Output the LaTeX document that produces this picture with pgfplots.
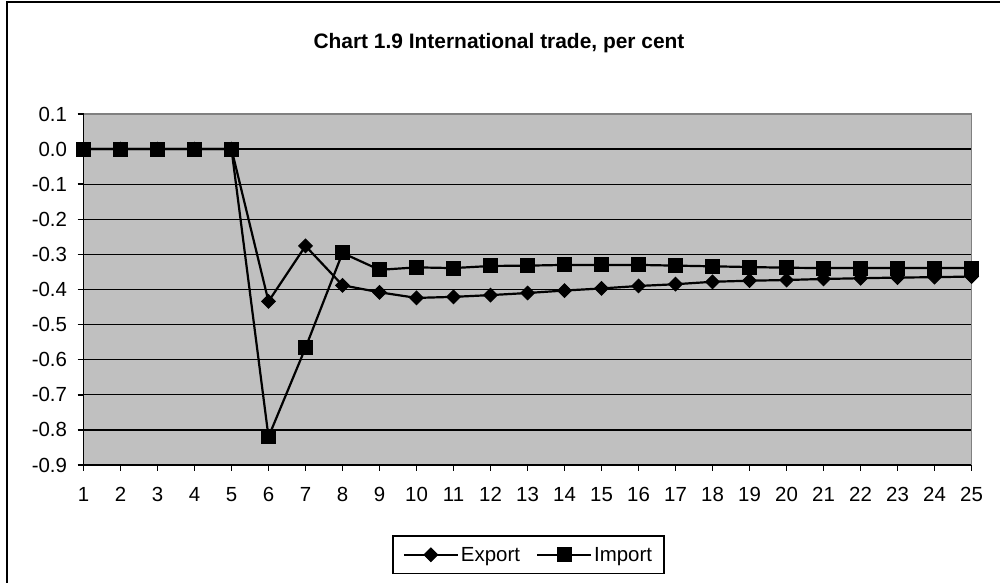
\documentclass[border=0pt]{standalone}
\usepackage{fontspec}
\setmainfont{Liberation Sans}
\usepackage{pgfplots}
\pgfplotsset{compat=1.18}
\definecolor{plotbg}{RGB}{192,192,192}
\definecolor{bordergray}{RGB}{128,128,128}
\begin{document}
\begin{tikzpicture}[x=1bp,y=1bp]
\useasboundingbox (0,0) rectangle (1000,583);
\draw[line width=2bp] (7,0) -- (7,581) -- (1000,581);
\node[font=\fontsize{21}{25}\selectfont\bfseries] at (499,540) {Chart 1.9 International trade, per cent};
\begin{axis}[
  at={(83.5bp,118bp)}, anchor=south west,
  scale only axis, width=888bp, height=351bp,
  xmin=1, xmax=25, ymin=-0.9, ymax=0.1,
  clip=false,
  axis background/.style={fill=plotbg},
  axis lines*=left,
  axis line style={-, black, line width=1.5bp},
  xtick={1,2,...,25},
  ytick={-0.9,-0.8,-0.7,-0.6,-0.5,-0.4,-0.3,-0.2,-0.1,0,0.1},
  yticklabels={-0.9,-0.8,-0.7,-0.6,-0.5,-0.4,-0.3,-0.2,-0.1,0.0,0.1},
  /pgf/number format/assume math mode=true,
  ymajorgrids,
  major grid style={black, line width=1.3bp},
  tick align=outside,
  major tick length=6bp,
  tick style={black, line width=1.5bp},
  ticklabel style={font=\fontsize{20.5}{24}\selectfont},
  yticklabel style={xshift=-7bp},
  xticklabel style={yshift=-13bp},
  legend columns=2,
  legend style={at={(0.501,-0.256)}, anchor=center, draw=black, line width=1.5bp,
    fill=white, font=\fontsize{20.5}{24}\selectfont, inner xsep=10bp, inner ysep=9bp,
    /tikz/every even column/.append style={column sep=14bp}},
  legend image code/.code={\draw[#1,mark repeat=2,mark phase=2] plot coordinates {(0bp,0bp)(27bp,0bp)(54bp,0bp)};},
]
\addplot[black, line width=2.2bp, mark=square*, mark options={rotate=45, mark size=4.8bp, line width=1bp}]
coordinates {
(1,0)(2,0)(3,0)(4,0)(5,0)(6,-0.434)(7,-0.276)(8,-0.388)(9,-0.408)(10,-0.424)
(11,-0.421)(12,-0.416)(13,-0.410)(14,-0.403)(15,-0.397)(16,-0.390)(17,-0.385)
(18,-0.378)(19,-0.375)(20,-0.373)(21,-0.370)(22,-0.368)(23,-0.366)(24,-0.365)(25,-0.363)
};
\addlegendentry{Export}
\addplot[black, line width=2.2bp, mark=square*, mark options={mark size=7bp, line width=1bp}]
coordinates {
(1,0)(2,0)(3,0)(4,0)(5,0)(6,-0.82)(7,-0.566)(8,-0.296)(9,-0.344)(10,-0.337)
(11,-0.339)(12,-0.333)(13,-0.332)(14,-0.330)(15,-0.330)(16,-0.330)(17,-0.332)
(18,-0.334)(19,-0.336)(20,-0.338)(21,-0.339)(22,-0.339)(23,-0.339)(24,-0.339)(25,-0.339)
};
\addlegendentry{Import}
\draw[bordergray, line width=1.3bp] (rel axis cs:0,1) -- (rel axis cs:1,1) -- (rel axis cs:1,0);
\end{axis}
\end{tikzpicture}
\end{document}
